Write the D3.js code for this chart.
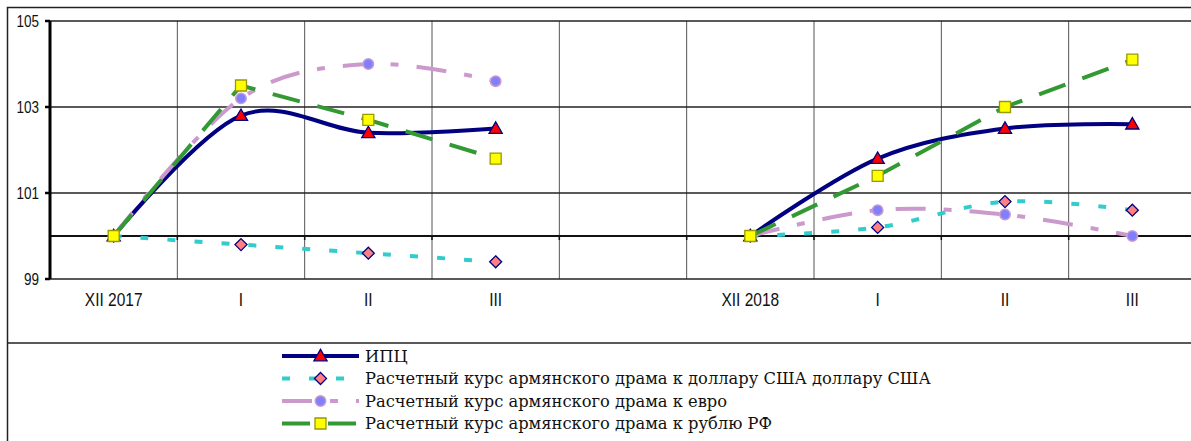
<!DOCTYPE html>
<html lang="ru">
  <head>
    <meta charset="utf-8">
    <title>ИПЦ и курсы драма</title>
    <script src="https://cdn.jsdelivr.net/npm/d3@7"></script>
    <style>
      body { margin: 0; background: #fff; }
      svg { display: block; }
      .tick-label { font-family: "Liberation Sans", Arial, sans-serif; fill: #111; }
      .legend-text { font-family: "DejaVu Serif", serif; font-size: 16.3px; fill: #111; }
    </style>
  </head>
  <body>
    <svg id="chart" width="1191" height="441"></svg>
    <script>
      // categories (index 4 is the empty gap between years)
      var categories = ["XII 2017", "I", "II", "III", "", "XII 2018", "I", "II", "III"];
      var yTicks = [99, 101, 103, 105];

      // series values, null = no point
      var cpi = [100, 102.8, 102.4, 102.5, null, 100, 101.8, 102.5, 102.6];
      var usd = [100, 99.8, 99.6, 99.4, null, 100, 100.2, 100.8, 100.6];
      var eur = [100, 103.2, 104.0, 103.6, null, 100, 100.6, 100.5, 100.0];
      var rub = [100, 103.5, 102.7, 101.8, null, 100, 101.4, 103.0, 104.1];

      var seriesNames = [
        "ИПЦ",
        "Расчетный курс армянского драма к доллару США доллару США",
        "Расчетный курс армянского драма к евро",
        "Расчетный курс армянского драма к рублю РФ"
      ];

      var series = [
        {name: seriesNames[0], values: cpi, color: "#000080", dash: null, smooth: true,
         marker: "triangle", fill: "#ff0000", mstroke: "#000080"},
        {name: seriesNames[1], values: usd, color: "#33cccc", dash: "8,19", smooth: true,
         marker: "diamond", fill: "#ff8080", mstroke: "#000080"},
        {name: seriesNames[2], values: eur, color: "#cc99cc", dash: "30,18,8,18", smooth: true,
         marker: "circle", fill: "#8080ff", mstroke: "#cc99cc"},
        {name: seriesNames[3], values: rub, color: "#339933", dash: "28,18", smooth: false,
         marker: "square", fill: "#ffff00", mstroke: "#999900"}
      ];

      var svg = d3.select("#chart");

      // outer frame + legend separator
      svg.append("rect").attr("x", 7.5).attr("y", 7.5).attr("width", 1200).attr("height", 440)
          .attr("fill", "none").attr("stroke", "#222").attr("stroke-width", 1.5);
      svg.append("line").attr("x1", 7.5).attr("x2", 1191).attr("y1", 343).attr("y2", 343)
          .attr("stroke", "#222").attr("stroke-width", 1.5);

      var x = d3.scaleBand().domain(d3.range(categories.length)).range([50, 1196]);
      var y = d3.scaleLinear().domain([99, 105]).range([279, 21]);

      // vertical gridlines at category boundaries
      svg.append("g").selectAll("line")
          .data(d3.range(1, categories.length))
          .enter().append("line")
          .attr("x1", function(i) { return x(i); })
          .attr("x2", function(i) { return x(i); })
          .attr("y1", y(105)).attr("y2", y(99))
          .attr("stroke", "#555").attr("stroke-width", 1);

      // horizontal gridlines
      svg.append("g").selectAll("line")
          .data(yTicks)
          .enter().append("line")
          .attr("x1", 50).attr("x2", 1196)
          .attr("y1", function(d) { return y(d); })
          .attr("y2", function(d) { return y(d); })
          .attr("stroke", "#222").attr("stroke-width", 1.5);

      // category axis crosses at 100
      var xAxis = svg.append("g").attr("transform", "translate(0," + y(100) + ")");
      xAxis.append("line").attr("x1", 50).attr("x2", 1196)
          .attr("stroke", "#111").attr("stroke-width", 1.8);
      xAxis.selectAll(".xt")
          .data(d3.range(1, categories.length))
          .enter().append("line")
          .attr("x1", function(i) { return x(i); })
          .attr("x2", function(i) { return x(i); })
          .attr("y1", 0).attr("y2", 4)
          .attr("stroke", "#111").attr("stroke-width", 1.5);

      // category labels at the bottom
      svg.append("g").selectAll("text")
          .data(categories)
          .enter().append("text")
          .attr("class", "tick-label")
          .attr("text-anchor", "middle")
          .attr("font-size", 15.5)
          .attr("transform", function(d, i) {
            return "translate(" + (x(i) + x.bandwidth() / 2) + ",306) scale(1,1.17)";
          })
          .text(function(d) { return d; });

      // value axis
      var yAxis = svg.append("g");
      yAxis.append("line").attr("x1", 50).attr("x2", 50)
          .attr("y1", y(105)).attr("y2", y(99))
          .attr("stroke", "#000").attr("stroke-width", 3);
      yAxis.selectAll(".yt")
          .data(yTicks)
          .enter().append("line")
          .attr("x1", 45).attr("x2", 50)
          .attr("y1", function(d) { return y(d); })
          .attr("y2", function(d) { return y(d); })
          .attr("stroke", "#000").attr("stroke-width", 2.5);
      yAxis.selectAll("text")
          .data(yTicks)
          .enter().append("text")
          .attr("class", "tick-label")
          .attr("text-anchor", "end")
          .attr("font-size", 13.5)
          .attr("transform", function(d) {
            return "translate(39," + (y(d) + 5.5) + ") scale(1,1.2)";
          })
          .text(function(d) { return d; });

      function markerPath(type) {
        if (type === "triangle") return d3.symbol().type(d3.symbolTriangle).size(75)();
        if (type === "diamond") return "M0,-6L6,0L0,6L-6,0Z";
        if (type === "circle") return d3.symbol().type(d3.symbolCircle).size(85)();
        return "M-5.5,-5.5H5.5V5.5H-5.5Z";
      }

      var cx = function(i) { return x(i) + x.bandwidth() / 2; };

      series.forEach(function(s) {
        var line = d3.line()
            .defined(function(d) { return d != null; })
            .x(function(d, i) { return cx(i); })
            .y(function(d) { return y(d); })
            .curve(s.smooth ? d3.curveCatmullRom.alpha(0) : d3.curveLinear);

        svg.append("path")
            .attr("d", line(s.values))
            .attr("fill", "none")
            .attr("stroke", s.color)
            .attr("stroke-width", 4)
            .attr("stroke-dasharray", s.dash);

        svg.append("g").selectAll("path")
            .data(s.values.map(function(v, i) { return {v: v, i: i}; }).filter(function(d) { return d.v != null; }))
            .enter().append("path")
            .attr("d", markerPath(s.marker))
            .attr("transform", function(d) {
              return "translate(" + cx(d.i) + "," + (y(d.v) + (s.marker === "triangle" ? 1 : 0)) + ")";
            })
            .attr("fill", s.fill)
            .attr("stroke", s.mstroke)
            .attr("stroke-width", s.marker === "circle" ? 1.5 : 1.3);
      });

      // legend
      var legend = svg.append("g");
      var rowY = [356, 378.5, 401, 423.5];
      series.forEach(function(s, k) {
        var row = legend.append("g").attr("transform", "translate(0," + rowY[k] + ")");
        row.append("line")
            .attr("x1", 282).attr("x2", 359).attr("y1", 0).attr("y2", 0)
            .attr("stroke", s.color).attr("stroke-width", 4)
            .attr("stroke-dasharray", s.dash);
        row.append("path")
            .attr("d", markerPath(s.marker))
            .attr("transform", "translate(320.5," + (s.marker === "triangle" ? 1 : 0) + ")")
            .attr("fill", s.fill).attr("stroke", s.mstroke)
            .attr("stroke-width", s.marker === "circle" ? 1.5 : 1.3);
        row.append("text")
            .attr("class", "legend-text")
            .attr("x", 365).attr("y", 5.5)
            .text(s.name);
      });
    </script>
  </body>
</html>
